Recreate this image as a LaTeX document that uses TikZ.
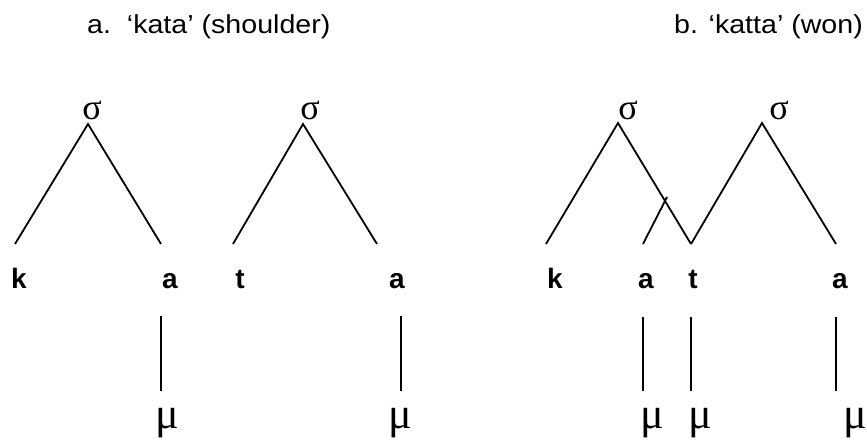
\documentclass[tikz,border=0pt]{standalone}
\usepackage{fontspec}
\setmainfont{Liberation Sans}
\newfontfamily\grk{Liberation Serif}
\begin{document}
\begin{tikzpicture}[x=1pt,y=-1pt,
  branch/.style={line width=1.8pt},
  titletext/.style={inner sep=0pt,anchor=base west,font=\fontsize{26}{30}\selectfont,xscale=1.1},
  seg/.style={inner sep=0pt,anchor=base,font=\fontsize{28}{32}\selectfont\bfseries},
  sig/.style={inner sep=0pt,font=\fontsize{36}{40}\selectfont\grk},
  mora/.style={inner sep=0pt,font=\fontsize{44}{48}\selectfont\grk}]
\useasboundingbox (0,0) rectangle (867,439);
% titles
\node[titletext] (ta) at (87,33) {a.\ \ ‘kata’ (shoulder)};
\node[titletext] (tb) at (674,33) {b. ‘katta’ (won)};
% sigma labels
\node[sig] (s1) at (92,110) {σ};
\node[sig] (s2) at (310,110) {σ};
\node[sig] (s3) at (628,110) {σ};
\node[sig] (s4) at (779,110) {σ};
% apex coordinates
\coordinate (p1) at (88,124);
\coordinate (p2) at (303,124);
\coordinate (p3) at (618,123);
\coordinate (p4) at (762,123);
% foot coordinates
\coordinate (f1) at (15,244);
\coordinate (f2) at (161,244);
\coordinate (f3) at (233,244);
\coordinate (f4) at (377,244);
\coordinate (f5) at (546,244);
\coordinate (f6) at (691,244);
\coordinate (f7) at (836,244);
\coordinate (f8) at (643,244);
\coordinate (f8top) at (667,197);
% branches
\draw[branch] (f1) -- (p1) -- (f2);
\draw[branch] (f3) -- (p2) -- (f4);
\draw[branch] (f5) -- (p3) -- (f6);
\draw[branch] (f6) -- (p4) -- (f7);
\draw[branch] (f8) -- (f8top);
% segments
\node[seg] (k1) at (19,288) {k};
\node[seg] (a1) at (170,288) {a};
\node[seg] (t1) at (240,288) {t};
\node[seg] (a2) at (397,288) {a};
\node[seg] (k2) at (555,288) {k};
\node[seg] (a3) at (646,288) {a};
\node[seg] (t2) at (693,288) {t};
\node[seg] (a4) at (840,288) {a};
% mora links
\coordinate (v1t) at (161,316); \coordinate (v1b) at (161,391);
\coordinate (v2t) at (401,316); \coordinate (v2b) at (401,391);
\coordinate (v3t) at (643,317); \coordinate (v3b) at (643,391);
\coordinate (v4t) at (691,317); \coordinate (v4b) at (691,391);
\coordinate (v5t) at (836,317); \coordinate (v5b) at (836,391);
\draw[branch] (v1t) -- (v1b);
\draw[branch] (v2t) -- (v2b);
\draw[branch] (v3t) -- (v3b);
\draw[branch] (v4t) -- (v4b);
\draw[branch] (v5t) -- (v5b);
% moras
\node[mora] (m1) at (167,423) {μ};
\node[mora] (m2) at (400,423) {μ};
\node[mora] (m3) at (652,423) {μ};
\node[mora] (m4) at (700,423) {μ};
\node[mora] (m5) at (855,423) {μ};
\end{tikzpicture}
\end{document}
